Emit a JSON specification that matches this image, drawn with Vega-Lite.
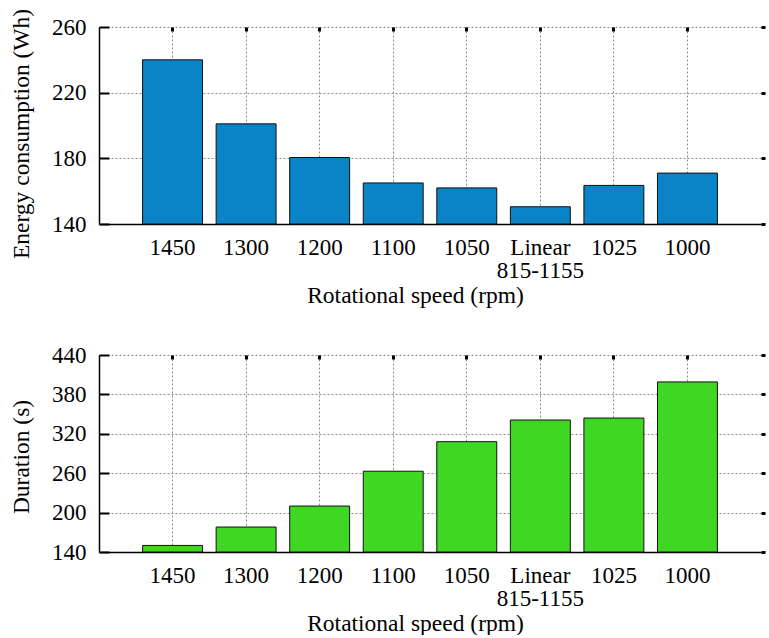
{
  "$schema": "https://vega.github.io/schema/vega-lite/v6.json",
  "background": "white",
  "padding": {"left": 8, "top": 8, "right": 0, "bottom": 0},
  "spacing": 37,
  "config": {
    "font": "Liberation Serif",
    "view": {"stroke": null},
    "axis": {
      "labelFont": "Liberation Serif",
      "titleFont": "Liberation Serif",
      "labelFontSize": 23,
      "titleFontSize": 23.5,
      "labelColor": "black",
      "titleColor": "black",
      "titleFontWeight": "normal",
      "domainColor": "black",
      "tickColor": "black",
      "gridColor": "#8c8c8c",
      "gridDash": [2, 2],
      "gridWidth": 1
    }
  },
  "datasets": {
    "energy": [
      {"speed": "1450", "energy": 240},
      {"speed": "1300", "energy": 201},
      {"speed": "1200", "energy": 180.5},
      {"speed": "1100", "energy": 165},
      {"speed": "1050", "energy": 162},
      {"speed": "Linear 815-1155", "energy": 150.5},
      {"speed": "1025", "energy": 163.5},
      {"speed": "1000", "energy": 171}
    ],
    "duration": [
      {"speed": "1450", "duration": 150},
      {"speed": "1300", "duration": 178},
      {"speed": "1200", "duration": 210},
      {"speed": "1100", "duration": 263},
      {"speed": "1050", "duration": 308},
      {"speed": "Linear 815-1155", "duration": 341},
      {"speed": "1025", "duration": 344},
      {"speed": "1000", "duration": 399}
    ]
  },
  "vconcat": [
    {
      "width": 662,
      "height": 197,
      "data": {"name": "energy"},
      "resolve": {"axis": {"x": "independent", "y": "independent"}},
      "layer": [
        {
          "mark": {"type": "bar", "fill": "#0b83c7", "stroke": "#111111", "strokeWidth": 1},
          "encoding": {
            "x": {
              "field": "speed", "type": "nominal", "sort": null,
              "scale": {"paddingInner": 0.185, "paddingOuter": 0.5925},
              "axis": {
                "orient": "bottom", "title": "Rotational speed (rpm)", "labelAngle": 0,
                "ticks": false, "grid": true, "bandPosition": 0.5,
                "labelPadding": 30, "labelBaseline": "alphabetic", "labelLineHeight": 23,
                "labelExpr": "datum.value == 'Linear 815-1155' ? ['Linear', '815-1155'] : datum.value",
                "titleX": 316, "titleY": 78, "titleBaseline": "alphabetic",
                "domainWidth": 1.5
              }
            },
            "y": {
              "field": "energy", "type": "quantitative",
              "scale": {"domain": [140, 260], "nice": false, "zero": false},
              "axis": {
                "values": [140, 180, 220, 260], "title": "Energy consumption (Wh)",
                "ticks": false, "grid": true, "labelPadding": 13,
                "titleX": -71, "titleY": 106.5, "titleBaseline": "alphabetic", "titleAngle": 270,
                "domainWidth": 1.5
              }
            },
            "y2": {"datum": 140}
          }
        },
        {
          "mark": {"type": "bar", "opacity": 0},
          "encoding": {
            "x": {"field": "speed", "type": "nominal", "sort": null,
              "axis": {"orient": "top", "labels": false, "domain": false, "grid": false, "title": null, "tickSize": -4, "tickWidth": 3, "bandPosition": 0.5}},
            "y": {"field": "energy", "type": "quantitative",
              "axis": {"orient": "right", "values": [140, 180, 220, 260], "labels": false, "domain": false, "grid": false, "title": null, "tickSize": 4, "tickWidth": 3}},
            "y2": {"datum": 140}
          }
        },
        {
          "mark": {"type": "bar", "opacity": 0},
          "encoding": {
            "x": {"field": "speed", "type": "nominal", "sort": null,
              "axis": {"orient": "bottom", "labels": false, "domain": false, "grid": false, "title": null, "tickSize": -5, "tickWidth": 2.5, "bandPosition": 0.5}},
            "y": {"field": "energy", "type": "quantitative",
              "axis": {"orient": "left", "values": [140, 180, 220, 260], "labels": false, "domain": false, "grid": false, "title": null, "tickSize": -10, "tickWidth": 2}},
            "y2": {"datum": 140}
          }
        }
      ]
    },
    {
      "width": 662,
      "height": 197,
      "data": {"name": "duration"},
      "resolve": {"axis": {"x": "independent", "y": "independent"}},
      "layer": [
        {
          "mark": {"type": "bar", "fill": "#3fd624", "stroke": "#111111", "strokeWidth": 1},
          "encoding": {
            "x": {
              "field": "speed", "type": "nominal", "sort": null,
              "scale": {"paddingInner": 0.185, "paddingOuter": 0.5925},
              "axis": {
                "orient": "bottom", "title": "Rotational speed (rpm)", "labelAngle": 0,
                "ticks": false, "grid": true, "bandPosition": 0.5,
                "labelPadding": 30, "labelBaseline": "alphabetic", "labelLineHeight": 23,
                "labelExpr": "datum.value == 'Linear 815-1155' ? ['Linear', '815-1155'] : datum.value",
                "titleX": 316, "titleY": 78, "titleBaseline": "alphabetic",
                "domainWidth": 1.5
              }
            },
            "y": {
              "field": "duration", "type": "quantitative",
              "scale": {"domain": [140, 440], "nice": false, "zero": false},
              "axis": {
                "values": [140, 200, 260, 320, 380, 440], "title": "Duration (s)",
                "ticks": false, "grid": true, "labelPadding": 13,
                "titleX": -71, "titleY": 101.5, "titleBaseline": "alphabetic", "titleAngle": 270,
                "domainWidth": 1.5
              }
            },
            "y2": {"datum": 140}
          }
        },
        {
          "mark": {"type": "bar", "opacity": 0},
          "encoding": {
            "x": {"field": "speed", "type": "nominal", "sort": null,
              "axis": {"orient": "top", "labels": false, "domain": false, "grid": false, "title": null, "tickSize": -4, "tickWidth": 3, "bandPosition": 0.5}},
            "y": {"field": "duration", "type": "quantitative",
              "axis": {"orient": "right", "values": [140, 200, 260, 320, 380, 440], "labels": false, "domain": false, "grid": false, "title": null, "tickSize": 4, "tickWidth": 3}},
            "y2": {"datum": 140}
          }
        },
        {
          "mark": {"type": "bar", "opacity": 0},
          "encoding": {
            "x": {"field": "speed", "type": "nominal", "sort": null,
              "axis": {"orient": "bottom", "labels": false, "domain": false, "grid": false, "title": null, "tickSize": -5, "tickWidth": 2.5, "bandPosition": 0.5}},
            "y": {"field": "duration", "type": "quantitative",
              "axis": {"orient": "left", "values": [140, 200, 260, 320, 380, 440], "labels": false, "domain": false, "grid": false, "title": null, "tickSize": -10, "tickWidth": 2}},
            "y2": {"datum": 140}
          }
        }
      ]
    }
  ]
}
